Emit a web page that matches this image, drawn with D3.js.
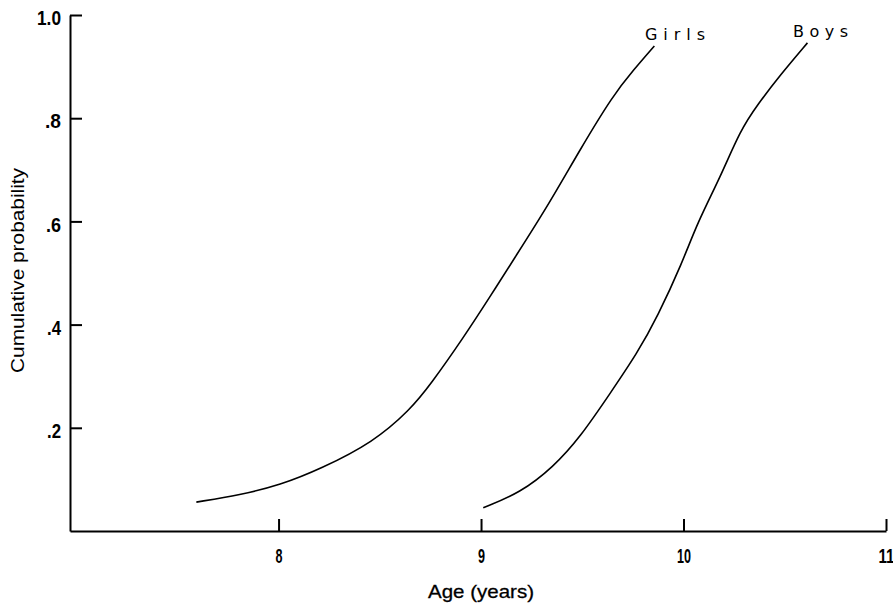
<!DOCTYPE html>
<html>
<head>
<meta charset="utf-8">
<script src="https://cdn.jsdelivr.net/npm/d3@7"></script>
<style>
  html, body { margin: 0; padding: 0; background: #fff; }
  svg { display: block; }
</style>
</head>
<body>
<svg id="chart" width="893" height="603"></svg>
<script>
// ---- data ----
const xTicks = [8, 9, 10, 11];
const xTickLabels = ["8", "9", "10", "11"];
const yTicks = [0.2, 0.4, 0.6, 0.8, 1.0];
const yTickLabels = [".2", ".4", ".6", ".8", "1.0"];

const girlsAge  = [7.594, 7.811, 8.008, 8.206, 8.468, 8.650, 8.749, 8.912, 9.046, 9.159, 9.327, 9.490, 9.653, 9.752, 9.856];
const girlsProb = [0.056, 0.070, 0.089, 0.120, 0.172, 0.235, 0.283, 0.374, 0.455, 0.525, 0.628, 0.740, 0.845, 0.893, 0.940];

const boysAge  = [9.011, 9.194, 9.357, 9.490, 9.638, 9.772, 9.871, 9.994, 10.068, 10.182, 10.281, 10.365, 10.478, 10.612];
const boysProb = [0.045, 0.074, 0.124, 0.182, 0.267, 0.345, 0.415, 0.520, 0.597, 0.686, 0.777, 0.826, 0.884, 0.946];

const seriesNames = ["Girls", "Boys"];

// ---- drawing ----
const svg = d3.select("#chart");
const x = d3.scaleLinear().domain([6.97, 11]).range([70, 886]);
const y = d3.scaleLinear().domain([0, 1]).range([531, 15]);

const tickFont = "'Liberation Sans Narrow', 'Liberation Sans', Arial, sans-serif";

// Y axis
const yAxis = d3.axisLeft(y)
  .tickValues(yTicks)
  .tickFormat((d, i) => yTickLabels[i])
  .tickSizeInner(-12)
  .tickSizeOuter(0)
  .tickPadding(9);
const gy = svg.append("g").attr("transform", "translate(70,0)").call(yAxis);
gy.select(".domain").attr("stroke", "#000").attr("stroke-width", 2);
gy.selectAll(".tick line").attr("stroke", "#000").attr("stroke-width", 2);
const yLabelWidths = [14, 14, 15, 16, 24];
gy.selectAll(".tick text")
  .attr("fill", "#000")
  .attr("font-family", tickFont)
  .attr("font-size", 21)
  .attr("font-weight", "bold")
  .attr("y", 3)
  .attr("textLength", (d, i) => yLabelWidths[i])
  .attr("lengthAdjust", "spacingAndGlyphs");

// X axis
const xAxis = d3.axisBottom(x)
  .tickValues(xTicks)
  .tickFormat((d, i) => xTickLabels[i])
  .tickSizeInner(-12)
  .tickSizeOuter(0)
  .tickPadding(17);
const gx = svg.append("g").attr("transform", `translate(0,${y(0)})`).call(xAxis);
gx.select(".domain").attr("stroke", "#000").attr("stroke-width", 2);
gx.selectAll(".tick line").attr("stroke", "#000").attr("stroke-width", 2);
const xLabelWidths = [7, 7, 14, 16];
gx.selectAll(".tick text")
  .attr("fill", "#000")
  .attr("font-family", tickFont)
  .attr("font-size", 21)
  .attr("font-weight", "bold")
  .attr("textLength", (d, i) => xLabelWidths[i])
  .attr("lengthAdjust", "spacingAndGlyphs");

// Curves
const line = d3.line()
  .x(d => x(d[0]))
  .y(d => y(d[1]))
  .curve(d3.curveBasis);

const girls = girlsAge.map((a, i) => [a, girlsProb[i]]);
const boys = boysAge.map((a, i) => [a, boysProb[i]]);

svg.append("path").datum(girls)
  .attr("d", line).attr("fill", "none").attr("stroke", "#000").attr("stroke-width", 1.6);
svg.append("path").datum(boys)
  .attr("d", line).attr("fill", "none").attr("stroke", "#000").attr("stroke-width", 1.6);

// Series labels
const labelFont = "'DejaVu Sans', 'Open Sans', sans-serif";
svg.append("text")
  .attr("x", 645).attr("y", 40)
  .attr("font-family", labelFont).attr("font-size", 16)
  .attr("textLength", 60).attr("lengthAdjust", "spacing")
  .text(seriesNames[0]);
svg.append("text")
  .attr("x", 793).attr("y", 37)
  .attr("font-family", labelFont).attr("font-size", 16)
  .attr("textLength", 55).attr("lengthAdjust", "spacing")
  .text(seriesNames[1]);

// Axis titles
svg.append("text")
  .attr("transform", "translate(24,270.5) rotate(-90)")
  .attr("text-anchor", "middle")
  .attr("font-family", "'Liberation Sans', Arial, sans-serif")
  .attr("font-size", 19)
  .attr("textLength", 205).attr("lengthAdjust", "spacingAndGlyphs")
  .text("Cumulative probability");

svg.append("text")
  .attr("x", 481).attr("y", 598)
  .attr("text-anchor", "middle")
  .attr("font-family", "'Liberation Sans', Arial, sans-serif")
  .attr("font-size", 19)
  .attr("stroke", "#000").attr("stroke-width", 0.3)
  .attr("textLength", 106).attr("lengthAdjust", "spacingAndGlyphs")
  .text("Age (years)");
</script>
</body>
</html>
